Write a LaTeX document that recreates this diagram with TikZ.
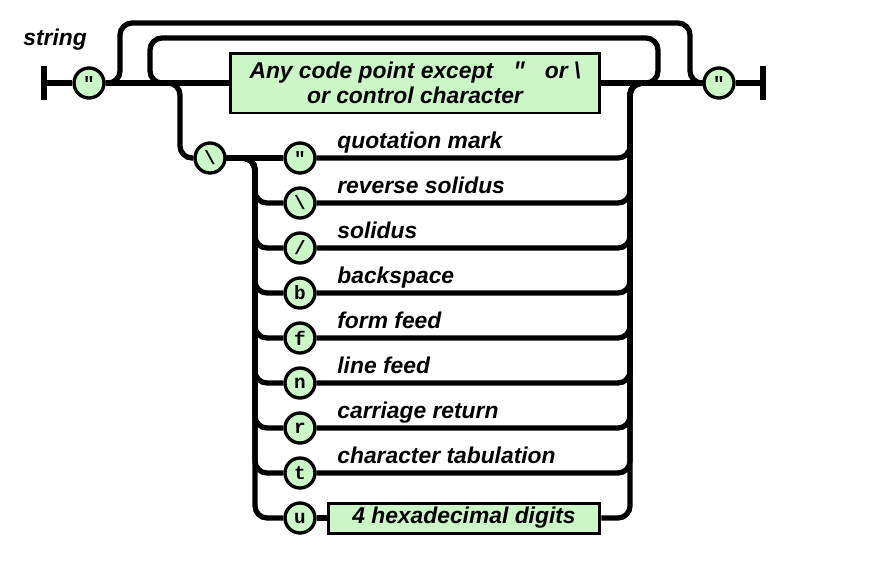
\documentclass[tikz,border=0pt]{standalone}
\usepackage{fontspec}
\setmainfont{Liberation Sans}
\setmonofont{Liberation Mono}
\usepackage{tikz}
\usetikzlibrary{positioning}
\definecolor{railgreen}{RGB}{204,245,200}

\begin{document}
\begin{tikzpicture}[x=0.02cm,y=-0.02cm,
		rail/.style={line width=3pt,rounded corners=0.24cm},
		bar/.style={fill=black,minimum width=0.11cm,minimum height=0.68cm,inner sep=0pt},
		tok/.style={circle,draw,line width=1.9pt,fill=railgreen,minimum size=0.6cm,inner sep=0pt,font=\ttfamily\bfseries\fontsize{11}{11}\selectfont},
		box/.style={draw,line width=1.7pt,fill=railgreen,inner sep=0pt,align=center,font=\bfseries\itshape\fontsize{13}{14}\selectfont},
		lbl/.style={anchor=base west,inner sep=0pt,font=\bfseries\itshape\fontsize{13}{14}\selectfont}]
		\useasboundingbox (0,0) rectangle (876,576);
		\node[lbl] (name) at (23,45) {string};
		%
		\node[bar] (start) at (44,83) {};
		\node[tok] (qL) at (89,83) {"};
		\node[box,minimum width=7.4cm,minimum height=1.2cm] (any) at (415,83)
			{Any code point except\ \ \ \texttt{"}\ \ \ or \textbackslash\\or control character};
		\node[tok] (qR) at (719,83) {"};
		\node[bar] (stop) at (763,83) {};
		%
		\node[tok] (bs) at (210,158) {\textbackslash};
		\node[tok] (e1) at (300,158) {"};
		\node[tok] (e2) at (300,203) {\textbackslash};
		\node[tok] (e3) at (300,248) {/};
		\node[tok] (e4) at (300,293) {b};
		\node[tok] (e5) at (300,338) {f};
		\node[tok] (e6) at (300,383) {n};
		\node[tok] (e7) at (300,428) {r};
		\node[tok] (e8) at (300,473) {t};
		\node[tok] (e9) at (300,518) {u};
		\node[box,minimum width=5.44cm,minimum height=0.6cm] (hex) at (464,518) {4 hexadecimal digits};
		%
		\node[lbl] (l1) at (337,148) {quotation mark};
		\node[lbl] (l2) at (337,193) {reverse solidus};
		\node[lbl] (l3) at (337,238) {solidus};
		\node[lbl] (l4) at (337,283) {backspace};
		\node[lbl] (l5) at (337,328) {form feed};
		\node[lbl] (l6) at (337,373) {line feed};
		\node[lbl] (l7) at (337,418) {carriage return};
		\node[lbl] (l8) at (337,463) {character tabulation};
		%
		\coordinate (outL) at (120,23);
		\coordinate (outR) at (690,83);
		\coordinate (inL) at (150,83);
		\coordinate (inR) at (658,38);
		\coordinate (escT) at (180,158);
		\coordinate (escL) at (255,158);
		\coordinate (escR) at (630,83);
		%
		\begin{scope}[on background layer/.try]
		%Main line
		\draw[rail] (start) -- (qL) -- (any) -- (qR) -- (stop);
		%Loops
		\draw[rail] (qL.east) -| (outL) -| (outR) -- (qR.west);
		\draw[rail] (any.east) -| (inR) -| (inL) -- (any.west);
		%Escapes
		\draw[rail] (qL.east) -| (escT) -- (bs);
		\draw[rail] (bs) -- (e1);
		\draw[rail] (bs.east) -| (escL |- e2) -- (e2);
		\draw[rail] (bs.east) -| (escL |- e3) -- (e3);
		\draw[rail] (bs.east) -| (escL |- e4) -- (e4);
		\draw[rail] (bs.east) -| (escL |- e5) -- (e5);
		\draw[rail] (bs.east) -| (escL |- e6) -- (e6);
		\draw[rail] (bs.east) -| (escL |- e7) -- (e7);
		\draw[rail] (bs.east) -| (escL |- e8) -- (e8);
		\draw[rail] (bs.east) -| (escL |- e9) -- (e9);
		\draw[rail] (e9) -- (hex);
		%Back to main line
		\draw[rail] (e1.east) -| (escR) -- (qR.west);
		\draw[rail] (e2.east) -| (escR) -- (qR.west);
		\draw[rail] (e3.east) -| (escR) -- (qR.west);
		\draw[rail] (e4.east) -| (escR) -- (qR.west);
		\draw[rail] (e5.east) -| (escR) -- (qR.west);
		\draw[rail] (e6.east) -| (escR) -- (qR.west);
		\draw[rail] (e7.east) -| (escR) -- (qR.west);
		\draw[rail] (e8.east) -| (escR) -- (qR.west);
		\draw[rail] (hex.east) -| (escR) -- (qR.west);
		\end{scope}
\end{tikzpicture}
\end{document}
